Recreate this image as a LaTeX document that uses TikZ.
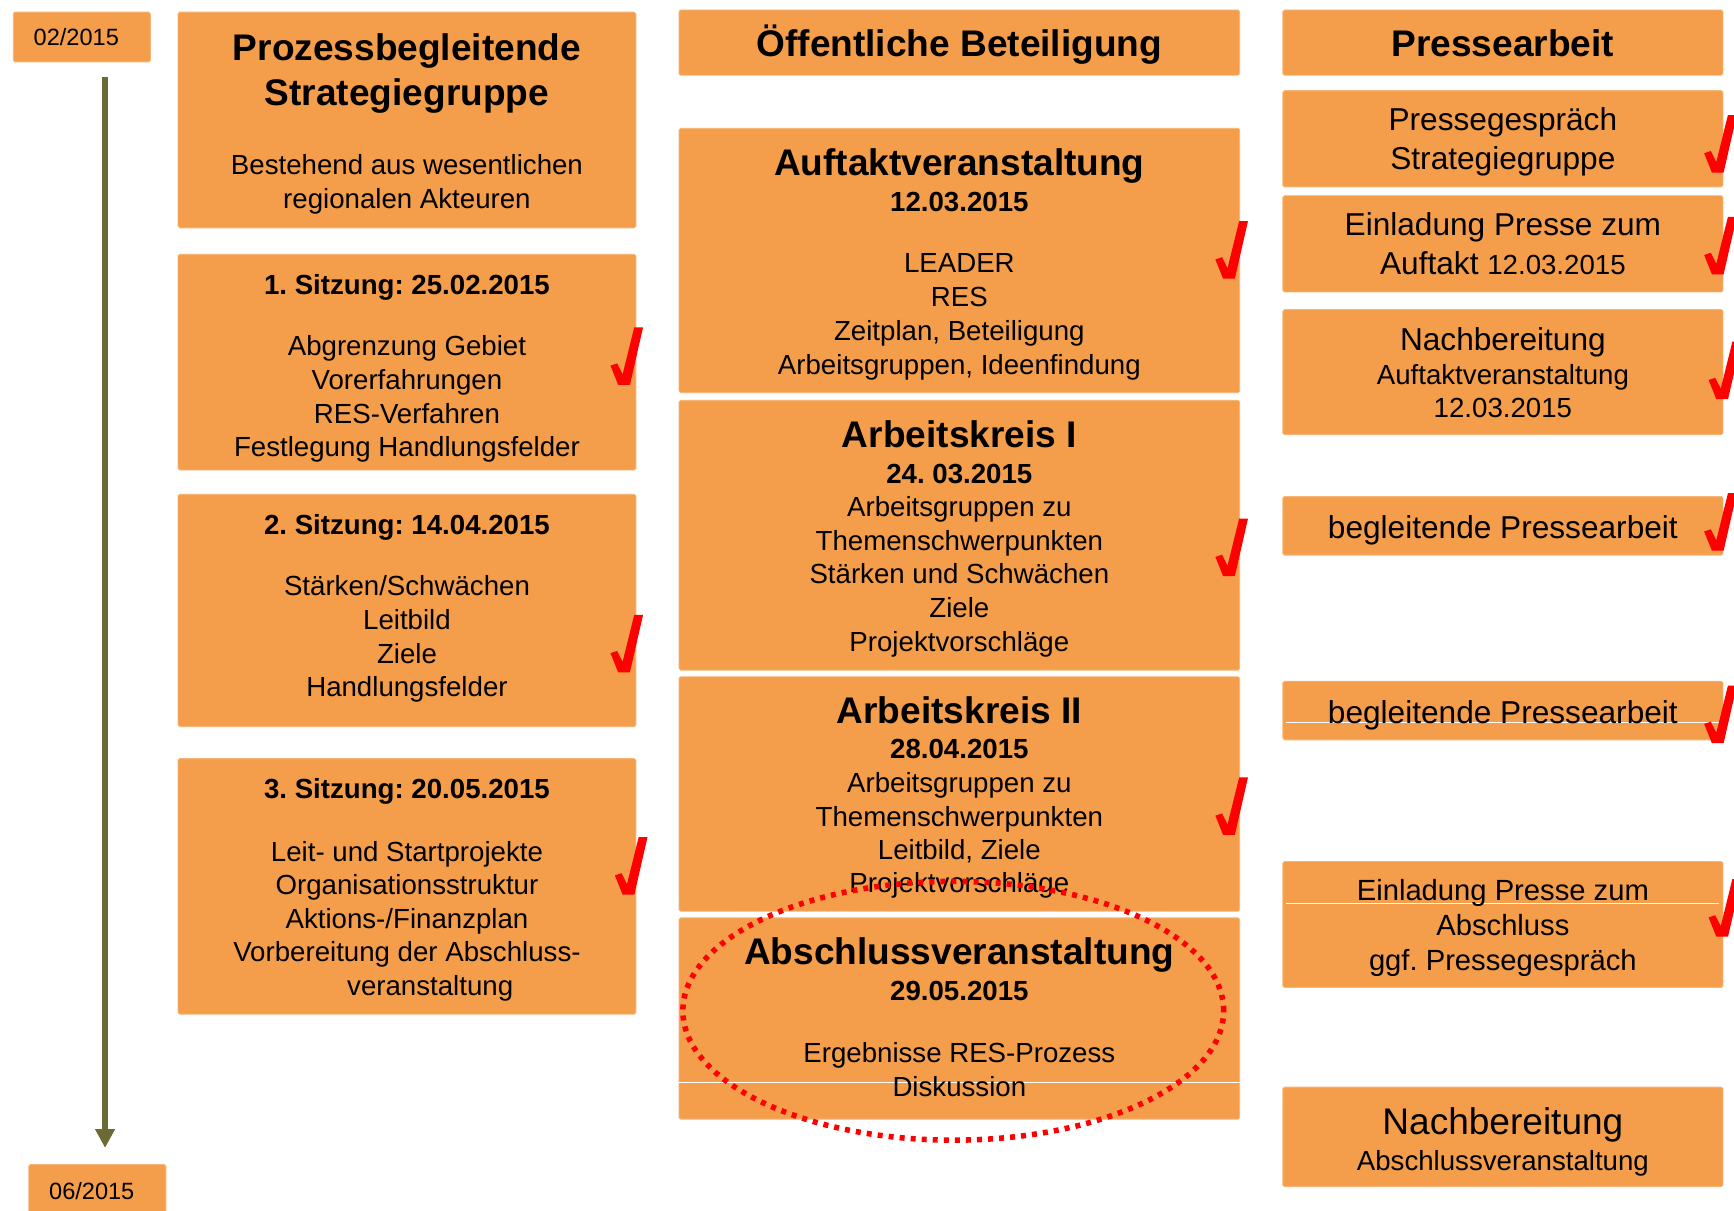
\documentclass[tikz,border=0pt]{standalone}
\usepackage{fontspec}
\setmainfont{Liberation Sans}
\usetikzlibrary{arrows.meta}

\definecolor{kastenorange}{HTML}{F49D4A}
\definecolor{zeitoliv}{HTML}{6B6A35}

\tikzset{
    kasten/.style = {fill=kastenorange, draw=kastenorange!75!white, line width=0.8pt, rounded corners=1.5pt, inner sep=0pt},
    monat/.style = {font={\fontsize{21.3}{25}\selectfont}},
    titel/.style = {font={\fontsize{33.5}{40.2}\selectfont\bfseries}, align=center, inner sep=0pt},
    datum/.style = {font={\fontsize{25}{30}\selectfont\bfseries}, inner sep=0pt},
    zeile/.style = {font={\fontsize{25}{30.5}\selectfont}, align=center, inner sep=0pt},
    presse/.style = {font={\fontsize{28.6}{35}\selectfont}, align=center, inner sep=0pt},
    weisslinie/.style = {white, line width=0.8pt},
    punktellipse/.style = {red, line width=5pt, dash pattern=on 4.5pt off 5.5pt},
    zeitpfeil/.style = {zeitoliv, line width=5pt, -{Triangle[width=17pt, length=17pt]}},
    haken/.pic = {\fill[red] (0,34.6) -- (6,32.6) -- (11,42.5) -- (21.5,0) -- (29.5,0) -- (17.6,52) -- (7,52) -- cycle;}
}

\begin{document}
\frenchspacing
\begin{tikzpicture}[x=1pt, y=-1pt]
    \useasboundingbox (0,0) rectangle (1568,1095);
    \clip (0,0) rectangle (1568,1095);
    \fill[white] (0,0) rectangle (1568,1095);

    % Zeitachse
    \node[kasten, monat, minimum width=124, minimum height=45] (start) at (74,33.5) {\hspace*{-10pt}02/2015};
    \node[kasten, monat, minimum width=124, minimum height=48] (ende) at (88,1077) {\hspace*{-10pt}06/2015};
    \coordinate (zeitA) at (95,70);
    \coordinate (zeitB) at (95,1038);
    \draw[zeitpfeil] (zeitA) -- (zeitB);

    % Strategiegruppe
    \node[kasten, minimum width=414, minimum height=195] (strategie) at (368,108.5) {};
    \node[titel] (strategie-titel) at (368,66.5) {Prozessbegleitende\\Strategiegruppe};
    \node[zeile, font={\fontsize{25}{31}\selectfont}] (strategie-text) at (368,167) {Bestehend aus wesentlichen\\regionalen Akteuren};

    \node[kasten, minimum width=414, minimum height=195] (sitzung1) at (368,327.5) {};
    \node[datum, anchor=base] (sitzung1-titel) at (368,266) {1. Sitzung: 25.02.2015};
    \node[zeile] (sitzung1-text) at (368,361) {Abgrenzung Gebiet\\Vorerfahrungen\\RES-Verfahren\\Festlegung Handlungsfelder};

    \node[kasten, minimum width=414, minimum height=210] (sitzung2) at (368,552) {};
    \node[datum, anchor=base] (sitzung2-titel) at (368,483) {2. Sitzung: 14.04.2015};
    \node[zeile] (sitzung2-text) at (368,578) {Stärken/Schwächen\\Leitbild\\Ziele\\Handlungsfelder};

    \node[kasten, minimum width=414, minimum height=231] (sitzung3) at (368,801.5) {};
    \node[datum, anchor=base] (sitzung3-titel) at (368,722) {3. Sitzung: 20.05.2015};
    \node[zeile, font={\fontsize{25}{30.25}\selectfont}] (sitzung3-text) at (368,833) {Leit- und Startprojekte\\Organisationsstruktur\\Aktions-/Finanzplan\\Vorbereitung der Abschluss-\\\hspace*{42pt}veranstaltung};

    % Oeffentliche Beteiligung
    \node[kasten, minimum width=507, minimum height=59] (oeff) at (867.5,38.5) {};
    \node[titel, anchor=base] (oeff-titel) at (867.5,51) {Öffentliche Beteiligung};

    \node[kasten, minimum width=507, minimum height=239] (auftakt) at (867.5,235.5) {};
    \node[titel, anchor=base] (auftakt-titel) at (867.5,159) {Auftaktveranstaltung};
    \node[datum, anchor=base] (auftakt-datum) at (867.5,191) {12.03.2015};
    \node[zeile, font={\fontsize{25}{30.7}\selectfont}] (auftakt-text) at (867.5,286.6) {LEADER\\RES\\Zeitplan, Beteiligung\\Arbeitsgruppen, Ideenfindung};

    \node[kasten, minimum width=507, minimum height=244] (ak1) at (867.5,484) {};
    \node[titel, anchor=base] (ak1-titel) at (867.5,405) {Arbeitskreis I};
    \node[datum, anchor=base] (ak1-datum) at (867.5,437) {24. 03.2015};
    \node[zeile] (ak1-text) at (867.5,521.6) {Arbeitsgruppen zu\\Themenschwerpunkten\\Stärken und Schwächen\\Ziele\\Projektvorschläge};

    \node[kasten, minimum width=507, minimum height=212] (ak2) at (867.5,718) {};
    \node[titel, anchor=base] (ak2-titel) at (867.5,654) {Arbeitskreis II};
    \node[datum, anchor=base] (ak2-datum) at (867.5,686) {28.04.2015};
    \node[zeile, font={\fontsize{25}{30}\selectfont}] (ak2-text) at (867.5,755.6) {Arbeitsgruppen zu\\Themenschwerpunkten\\Leitbild, Ziele\\Projektvorschläge};

    \node[kasten, minimum width=507, minimum height=182] (abschluss) at (867.5,921) {};
    \draw[weisslinie] (abschluss.west |- 0,979) -- (abschluss.east |- 0,979);
    \node[titel, anchor=base] (abschluss-titel) at (867.5,872) {Abschlussveranstaltung};
    \node[datum, anchor=base] (abschluss-datum) at (867.5,905) {29.05.2015};
    \node[zeile] (abschluss-text) at (867.5,967) {Ergebnisse RES-Prozess\\Diskussion};

    % Pressearbeit
    \node[kasten, minimum width=398, minimum height=59] (presse) at (1359,38.5) {};
    \node[titel, anchor=base] (presse-titel) at (1359,51) {Pressearbeit};

    \node[kasten, minimum width=398, minimum height=87] (p1) at (1359,125.5) {};
    \node[presse] (p1-text) at (1359,128.5) {Pressegespräch\\Strategiegruppe};

    \node[kasten, minimum width=398, minimum height=87] (p2) at (1359,220.5) {};
    \node[presse] (p2-text) at (1359,220.5) {Einladung Presse zum\\Auftakt {\fontsize{25}{35}\selectfont 12.03.2015}};

    \node[kasten, minimum width=398, minimum height=113] (p3) at (1359,336.5) {};
    \node[presse, anchor=base] (p3-titel) at (1359,317.3) {Nachbereitung};
    \node[zeile, font={\fontsize{25}{30}\selectfont}] (p3-text) at (1359,354) {Auftaktveranstaltung\\12.03.2015};

    \node[kasten, minimum width=398, minimum height=53] (p4) at (1359,475.5) {};
    \node[presse, anchor=base] (p4-text) at (1359,487.3) {begleitende Pressearbeit};

    \node[kasten, minimum width=398, minimum height=53] (p5) at (1359,642.5) {};
    \draw[weisslinie] ([xshift=3pt]p5.west |- 0,653) -- ([xshift=-4pt]p5.east |- 0,653);
    \node[presse, anchor=base] (p5-text) at (1359,654.3) {begleitende Pressearbeit};

    \node[kasten, minimum width=398, minimum height=114] (p6) at (1359,836) {};
    \draw[weisslinie] ([xshift=3pt]p6.west |- 0,817) -- ([xshift=-4pt]p6.east |- 0,817);
    \node[presse, font={\fontsize{26.4}{31.5}\selectfont}] (p6-text) at (1359,839.3) {Einladung Presse zum\\Abschluss\\ggf. Pressegespräch};

    \node[kasten, minimum width=398, minimum height=90] (p7) at (1359,1028) {};
    \node[titel, font={\fontsize{33.5}{40.2}\selectfont}, anchor=base] (p7-titel) at (1359,1026) {Nachbereitung};
    \node[zeile, anchor=base] (p7-text) at (1359,1058) {Abschlussveranstaltung};

    % Haken
    \pic at (552,296) {haken};
    \pic at (552,556) {haken};
    \pic at (556,757) {haken};
    \pic at (1099,200) {haken};
    \pic at (1099,469) {haken};
    \pic at (1099,703) {haken};
    \pic at (1541,104) {haken};
    \pic at (1541,196) {haken};
    \pic at (1545,309) {haken};
    \pic at (1541,446) {haken};
    \pic at (1541,620) {haken};
    \pic at (1545,795) {haken};

    % Markierung Abschluss
    \draw[punktellipse] (862,914) ellipse [x radius=244.5pt, y radius=117pt];
\end{tikzpicture}
\end{document}
